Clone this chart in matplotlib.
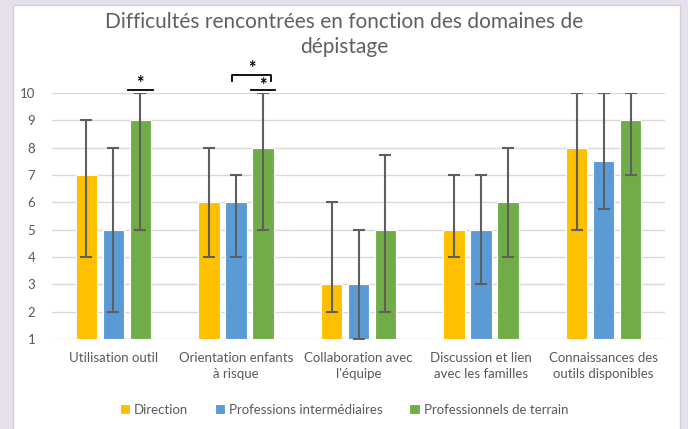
import numpy as np
import matplotlib
matplotlib.use("Agg")
import matplotlib.pyplot as plt
from matplotlib.patches import Rectangle

plt.rcParams['font.family'] = ['Lato', 'DejaVu Sans']

categories = ["Utilisation outil", "Orientation enfants\nà risque", "Collaboration avec\nl'équipe",
              "Discussion et lien\navec les familles", "Connaissances des\noutils disponibles"]
series_names = ["Direction", "Professions intermédiaires", "Professionnels de terrain"]

direction = [7, 6, 3, 5, 8]
direction_low = [4, 4, 2, 4, 5]
direction_high = [9, 8, 6, 7, 10]

intermediaires = [5, 6, 3, 5, 7.5]
intermediaires_low = [2, 4, 1, 3, 5.75]
intermediaires_high = [8, 7, 5, 7, 10]

terrain = [9, 8, 5, 6, 9]
terrain_low = [5, 5, 2, 4, 7]
terrain_high = [10, 10, 7.75, 8, 10]

colors = ["#FFC000", "#5B9BD5", "#70AD47"]
text_col = "#595959"

fig = plt.figure(figsize=(6.88, 4.29), dpi=100, facecolor="#e6e0ec")
fig.patches.append(Rectangle((13/688, -0.05), (680-13)/688, 1.05 - 5/429,
                             transform=fig.transFigure, facecolor="white",
                             edgecolor="#d0d0d0", lw=1, zorder=-10))

ax = fig.add_axes([52/688, 1-339/429, (665-52)/688, (339-93)/429])
ax.set_facecolor("none")

x = np.arange(len(categories))
offset = 0.22
width = 0.175
series = [(direction, direction_low, direction_high),
          (intermediaires, intermediaires_low, intermediaires_high),
          (terrain, terrain_low, terrain_high)]

for i, (vals, lo, hi) in enumerate(series):
    vals = np.array(vals)
    pos = x + (i - 1) * offset
    ax.bar(pos, vals - 1, width, bottom=1, color=colors[i], edgecolor="white",
           linewidth=0.8, label=series_names[i], zorder=2)
    yerr = [vals - np.array(lo), np.array(hi) - vals]
    ax.errorbar(pos, vals, yerr=yerr, fmt="none", ecolor="#5f5f5f",
                elinewidth=1.5, capsize=4, capthick=1.5, zorder=3)

ax.set_xlim(-0.5, len(categories) - 0.5)
ax.set_ylim(1, 10)
ax.set_yticks(range(1, 11))
ax.yaxis.grid(True, color="#d9d9d9", lw=1, zorder=0)
ax.set_axisbelow(True)
for s in ax.spines.values():
    s.set_visible(False)
ax.tick_params(axis="both", length=0, colors=text_col, labelsize=9.5)
ax.tick_params(axis="y", pad=12)
ax.tick_params(axis="x", pad=9)
ax.set_xticks(x)
ax.set_xticklabels(categories, color=text_col, linespacing=1.5)

# significance marks
kw = dict(color="black", lw=1.3, clip_on=False, zorder=4)
star = dict(ha="center", va="center", fontsize=13, fontweight="bold", color="black")
ax.plot([0.12, 0.32], [10.11, 10.11], **kw)
ax.text(0.22, 10.33, "*", **star)
ax.plot([1.12, 1.32], [10.11, 10.11], **kw)
ax.text(1.22, 10.27, "*", **star)
ax.plot([0.97, 0.97, 1.29, 1.29], [10.44, 10.66, 10.66, 10.44], **kw)
ax.text(1.13, 10.9, "*", **star)

fig.text(0.5, 1-22/429, "Difficultés rencontrées en fonction des domaines de",
         ha="center", va="center", fontsize=15, color="#606060")
fig.text(0.5, 1-47/429, "dépistage", ha="center", va="center", fontsize=15, color="#606060")

fig.legend(loc="center", bbox_to_anchor=(0.5, 1-410/429), ncol=3, frameon=False,
           handlelength=0.8, handleheight=0.8, handletextpad=0.3, columnspacing=2.0,
           fontsize=9.5, labelcolor=text_col)

fig.savefig("out.png", dpi=100, facecolor=fig.get_facecolor())
